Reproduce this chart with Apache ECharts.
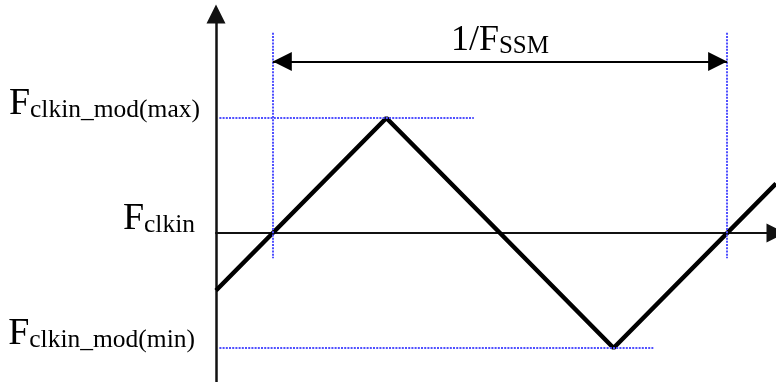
<!DOCTYPE html>
<html>
<head>
<meta charset="utf-8">
<script src="https://cdn.jsdelivr.net/npm/echarts@6/dist/echarts.min.js"></script>
<style>
  html, body { margin: 0; padding: 0; background: #fff; }
  #chart { width: 776px; height: 382px; }
</style>
</head>
<body>
<div id="chart"></div>
<script>
// triangle wave corners: x in quarter periods, y in units of modulation depth
const waveX = [0, 1.5, 3.5, 4.93];
const waveY = [-0.5, 1, -1, 0.43];

// frequency levels on the y axis (F + subscript)
const levelValues = [-1, 0, 1];
const levelSubs = ['clkin_mod(min)', 'clkin', 'clkin_mod(max)'];

// one modulation period, marked by dotted verticals and a double arrow
const periodX = [0.5, 4.5];
const periodGuideY = [1.74, -0.22];
const periodArrowY = 1.49;
const periodLabel = ['1/F', 'SSM'];

// dotted guides at max / min
const maxGuideX = [0.03, 2.27];
const minGuideX = [0.03, 3.85];

const xMax = 4.93;
const yMin = -1.296;
const yMax = 1.904;

const serif = '"Liberation Serif", "Times New Roman", serif';
const dotted = { color: '#5050ff', width: 2, type: [2, 1.2] };
// arrow head with its tip at the symbol centre (empty upper half)
const headPath = 'path://M0,0M0,20L10,40L-10,40Z';

const chart = echarts.init(document.getElementById('chart'));

chart.setOption({
  animation: false,
  grid: { left: 216, right: 0, top: 14, bottom: 0, containLabel: false, outerBoundsMode: 'none' },
  xAxis: {
    type: 'value',
    min: 0,
    max: xMax,
    axisLine: {
      onZero: true,
      symbol: ['none', 'triangle'],
      symbolSize: [19, 19],
      lineStyle: { color: '#111', width: 2 },
    },
    axisTick: { show: false },
    axisLabel: { show: false },
    splitLine: { show: false },
  },
  yAxis: {
    type: 'value',
    min: yMin,
    max: yMax,
    axisLine: {
      show: true,
      symbol: ['none', 'triangle'],
      symbolSize: [19, 19],
      lineStyle: { color: '#111', width: 2.5 },
    },
    axisTick: { show: false },
    splitLine: { show: false },
    axisLabel: {
      customValues: levelValues,
      margin: 16,
      verticalAlign: 'bottom',
      padding: [0, 0, -5, 0],
      formatter: (v) => {
        const i = levelValues.indexOf(v);
        const sub = v === 1 ? 's' : 't';
        return '{f|F}{' + sub + '|' + levelSubs[i] + '}';
      },
      rich: {
        f: { fontFamily: serif, fontSize: 38, color: '#000', verticalAlign: 'bottom' },
        s: { fontFamily: serif, fontSize: 25.5, color: '#000', verticalAlign: 'bottom' },
        t: { fontFamily: serif, fontSize: 25.5, color: '#000', verticalAlign: 'bottom', padding: [0, 5, 0, 0] },
      },
    },
  },
  series: [
    {
      name: 'wave',
      type: 'line',
      data: waveX.map((x, i) => [x, waveY[i]]),
      symbol: 'none',
      lineStyle: { color: '#000', width: 4.5 },
      z: 3,
    },
    {
      name: 'guides',
      type: 'line',
      data: [],
      markLine: {
        silent: true,
        symbol: 'none',
        lineStyle: dotted,
        label: { show: false },
        data: [
          [{ coord: [periodX[0], periodGuideY[0]] }, { coord: [periodX[0], periodGuideY[1]] }],
          [{ coord: [periodX[1], periodGuideY[0]] }, { coord: [periodX[1], periodGuideY[1]] }],
          [{ coord: [maxGuideX[0], 1] }, { coord: [maxGuideX[1], 1] }],
          [{ coord: [minGuideX[0], -1] }, { coord: [minGuideX[1], -1] }],
        ],
      },
    },
    {
      name: 'period',
      type: 'line',
      data: [],
      markLine: {
        silent: true,
        symbol: [headPath, headPath],
        symbolSize: [19, 38],
        lineStyle: { color: '#000', width: 2, type: 'solid' },
        label: {
          show: true,
          position: 'middle',
          distance: 3,
          formatter: '{a|' + periodLabel[0] + '}{b|' + periodLabel[1] + '}',
          rich: {
            a: { fontFamily: serif, fontSize: 36, color: '#000', verticalAlign: 'bottom' },
            b: { fontFamily: serif, fontSize: 25, color: '#000', verticalAlign: 'bottom' },
          },
        },
        data: [
          [{ coord: [periodX[0], periodArrowY] }, { coord: [periodX[1], periodArrowY] }],
        ],
      },
    },
  ],
});
</script>
</body>
</html>
